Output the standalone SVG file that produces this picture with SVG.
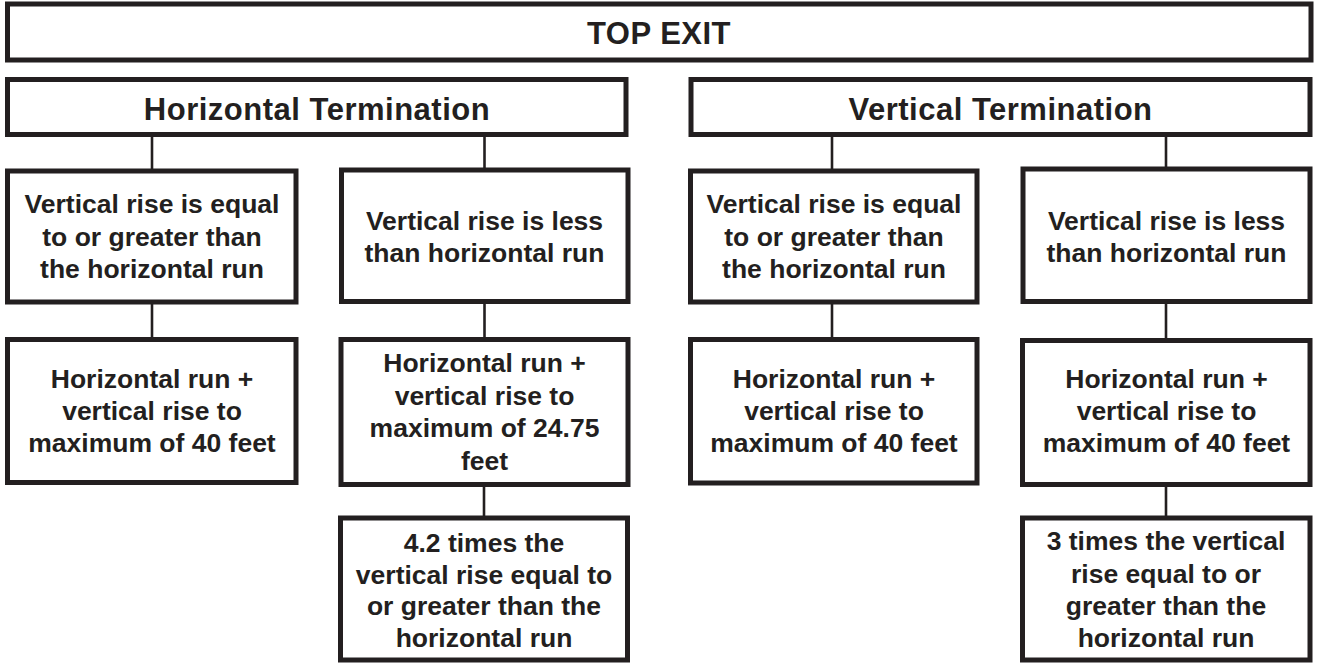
<svg xmlns="http://www.w3.org/2000/svg" width="1317" height="664" viewBox="0 0 1317 664">
<style>
.box{fill:#fff;stroke:#231f20;stroke-width:5}
.conn{stroke:#231f20;stroke-width:2.6;fill:none}
text{font-family:"Liberation Sans",Arial,sans-serif;font-weight:bold;fill:#231f20;text-anchor:middle}
.h{font-size:31px;letter-spacing:0.5px}
.t{font-size:26.5px}
</style>
<rect width="1317" height="664" fill="#fff"/>
<g id="connectors">
<line class="conn" x1="152" y1="136" x2="152" y2="170"/>
<line class="conn" x1="484.5" y1="136" x2="484.5" y2="170"/>
<line class="conn" x1="832" y1="136" x2="832" y2="170"/>
<line class="conn" x1="1166" y1="136" x2="1166" y2="170"/>
<line class="conn" x1="152" y1="303" x2="152" y2="339"/>
<line class="conn" x1="484.5" y1="303" x2="484.5" y2="339"/>
<line class="conn" x1="832" y1="303" x2="832" y2="339"/>
<line class="conn" x1="1166" y1="303" x2="1166" y2="339"/>
<line class="conn" x1="484" y1="486" x2="484" y2="518"/>
<line class="conn" x1="1166" y1="486" x2="1166" y2="518"/>
</g>
<g id="top-exit">
<rect class="box" x="7.5" y="4" width="1303.5" height="56"/>
<text class="h" x="659" y="44">TOP EXIT</text>
</g>
<g id="horizontal-termination">
<rect class="box" x="7.5" y="79.5" width="618.5" height="55"/>
<text class="h" x="317" y="120">Horizontal Termination</text>
</g>
<g id="vertical-termination">
<rect class="box" x="691" y="79.5" width="619" height="55"/>
<text class="h" x="1000.5" y="120">Vertical Termination</text>
</g>
<g id="h-equal">
<rect class="box" x="7.5" y="171" width="288.5" height="131"/>
<text class="t" x="152" y="213">Vertical rise is equal</text>
<text class="t" x="152" y="246">to or greater than</text>
<text class="t" x="152" y="278">the horizontal run</text>
</g>
<g id="h-less">
<rect class="box" x="341.5" y="170" width="286.5" height="131.5"/>
<text class="t" x="484.5" y="230">Vertical rise is less</text>
<text class="t" x="484.5" y="262">than horizontal run</text>
</g>
<g id="v-equal">
<rect class="box" x="690.5" y="171" width="286.5" height="131"/>
<text class="t" x="834" y="213">Vertical rise is equal</text>
<text class="t" x="834" y="246">to or greater than</text>
<text class="t" x="834" y="278">the horizontal run</text>
</g>
<g id="v-less">
<rect class="box" x="1023" y="169" width="287" height="132.5"/>
<text class="t" x="1166.5" y="230">Vertical rise is less</text>
<text class="t" x="1166.5" y="262">than horizontal run</text>
</g>
<g id="h-equal-max">
<rect class="box" x="7.5" y="339.5" width="288.5" height="143"/>
<text class="t" x="152" y="388">Horizontal run +</text>
<text class="t" x="152" y="420">vertical rise to</text>
<text class="t" x="152" y="452">maximum of 40 feet</text>
</g>
<g id="h-less-max">
<rect class="box" x="341" y="339.5" width="287" height="145"/>
<text class="t" x="484.5" y="372">Horizontal run +</text>
<text class="t" x="484.5" y="404.5">vertical rise to</text>
<text class="t" x="484.5" y="437">maximum of 24.75</text>
<text class="t" x="484.5" y="470">feet</text>
</g>
<g id="v-equal-max">
<rect class="box" x="690.5" y="339.5" width="286.5" height="143.5"/>
<text class="t" x="834" y="388">Horizontal run +</text>
<text class="t" x="834" y="420">vertical rise to</text>
<text class="t" x="834" y="452">maximum of 40 feet</text>
</g>
<g id="v-less-max">
<rect class="box" x="1022.5" y="340.5" width="287.5" height="144"/>
<text class="t" x="1166.5" y="388">Horizontal run +</text>
<text class="t" x="1166.5" y="420">vertical rise to</text>
<text class="t" x="1166.5" y="452">maximum of 40 feet</text>
</g>
<g id="h-less-factor">
<rect class="box" x="340.5" y="518" width="287" height="142"/>
<text class="t" x="484" y="551.5">4.2 times the</text>
<text class="t" x="484" y="583.5">vertical rise equal to</text>
<text class="t" x="484" y="615">or greater than the</text>
<text class="t" x="484" y="646.5">horizontal run</text>
</g>
<g id="v-less-factor">
<rect class="box" x="1022.5" y="518" width="287.5" height="142"/>
<text class="t" x="1166" y="550">3 times the vertical</text>
<text class="t" x="1166" y="583">rise equal to or</text>
<text class="t" x="1166" y="615">greater than the</text>
<text class="t" x="1166" y="646.5">horizontal run</text>
</g>
</svg>
